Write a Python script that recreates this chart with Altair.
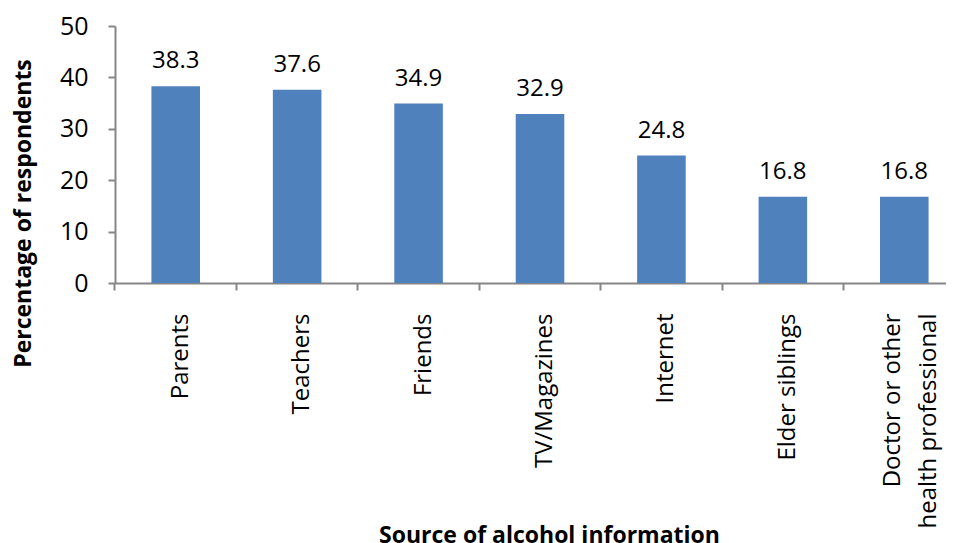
import altair as alt
import pandas as pd

sources = ["Parents", "Teachers", "Friends", "TV/Magazines", "Internet",
           "Elder siblings", "Doctor or other\nhealth professional"]
percentages = [38.3, 37.6, 34.9, 32.9, 24.8, 16.8, 16.8]

df = pd.DataFrame({"source": sources, "pct": percentages})

FONT = "Open Sans"
AXIS_GRAY = "#868686"

x_enc = alt.X(
    "source:N",
    sort=sources,
    scale=alt.Scale(range=[0, 850], paddingInner=0.6, paddingOuter=0.3),
    axis=alt.Axis(
        title="Source of alcohol information",
        labelAngle=-90,
        labelAlign="right",
        labelBaseline="middle",
        labelFont=FONT,
        labelFontSize=24,
        labelColor="#000000",
        labelPadding=23,
        labelLimit=400,
        labelOffset={"condition": {"test": "indexof(datum.value, 'Doctor') >= 0", "value": -11}, "value": 5},
        labelLineHeight=36,
        bandPosition=-0.75,
        tickSize=7,
        tickColor=AXIS_GRAY,
        domainColor=AXIS_GRAY,
        domainWidth=2,
        tickWidth=2,
        titleFont=FONT,
        titleFontSize=23,
        titleFontWeight="bold",
        titleColor="#000000",
        titleX=434,
        titleY=259,
        titleAlign="center",
        titleBaseline="alphabetic",
        labelExpr="split(datum.label, '\\n')",
    ),
)

y_enc = alt.Y(
    "pct:Q",
    scale=alt.Scale(domain=[0, 50]),
    axis=alt.Axis(
        title="Percentage of respondents",
        values=[0, 10, 20, 30, 40, 50],
        grid=False,
        labelFont=FONT,
        labelFontSize=25,
        labelColor="#000000",
        labelPadding=20,
        tickSize=7,
        tickColor=AXIS_GRAY,
        domainColor=AXIS_GRAY,
        domainWidth=2,
        tickWidth=2,
        titleFont=FONT,
        titleFontSize=23,
        titleFontWeight="bold",
        titleColor="#000000",
        titleAngle=-90,
        titleX=-92,
        titleY=187,
        titleAlign="center",
        titleBaseline="middle",
    ),
)

bars = alt.Chart(df).mark_bar(color="#4F81BD").encode(x=x_enc, y=y_enc)

labels = alt.Chart(df).mark_text(
    font=FONT, fontSize=24, color="#000000", baseline="alphabetic", dy=-18
).encode(
    x=alt.X("source:N", sort=sources),
    y=alt.Y("pct:Q"),
    text=alt.Text("pct:Q", format=".1f"),
)

chart = alt.layer(bars, labels).properties(
    width=831,
    height=257,
    autosize=alt.AutoSizeParams(type="none"),
    padding={"left": 107, "top": 18, "right": 0, "bottom": 261},
).configure_view(stroke=None)

chart.save("out.html", embed_options={"renderer": "svg", "actions": False})
